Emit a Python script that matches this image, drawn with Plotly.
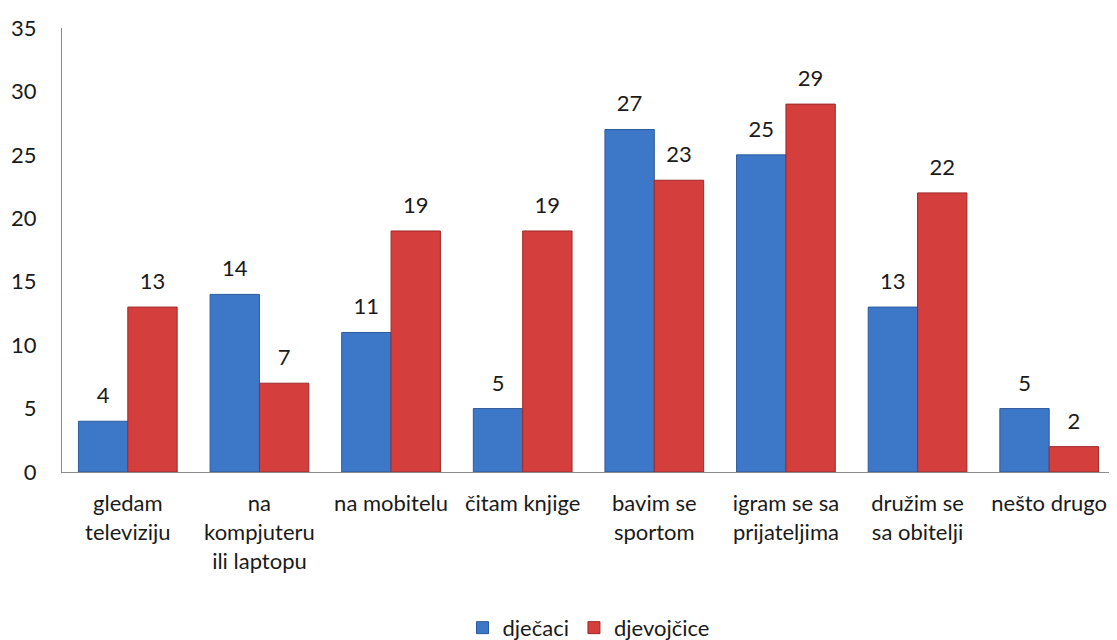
import plotly.graph_objects as go

categories = ["gledam<br>televiziju", "na<br>kompjuteru<br>ili laptopu", "na mobitelu",
              "čitam knjige", "bavim se<br>sportom", "igram se sa<br>prijateljima",
              "družim se<br>sa obitelji", "nešto drugo"]
djecaci = [4, 14, 11, 5, 27, 25, 13, 5]
djevojcice = [13, 7, 19, 19, 23, 29, 22, 2]
y_ticks = [0, 5, 10, 15, 20, 25, 30, 35]

font_family = "Lato, Open Sans, sans-serif"
# small empty second line lifts the value label a little above the bar
label_tpl = "<span style='font-size:22px'>%{y}</span><br> "

fig = go.Figure()
fig.add_trace(go.Bar(x=categories, y=djecaci, name="dječaci",
                     marker=dict(color="#3d78c8", line=dict(color="#2b5a9c", width=1)),
                     text=djecaci, texttemplate=label_tpl, textposition="outside",
                     cliponaxis=False, textfont=dict(size=10, color="#1a1a1a")))
fig.add_trace(go.Bar(x=categories, y=djevojcice, name="djevojčice",
                     marker=dict(color="#d43e3c", line=dict(color="#9e2a28", width=1)),
                     text=djevojcice, texttemplate=label_tpl, textposition="outside",
                     cliponaxis=False, textfont=dict(size=10, color="#1a1a1a")))

# page adds a small offset, margins are tuned for it
fig.update_layout(
    width=1117, height=640,
    margin=dict(l=54, r=10, t=20, b=176, autoexpand=False),
    paper_bgcolor="white", plot_bgcolor="white",
    font=dict(family=font_family, size=22, color="#1a1a1a"),
    barmode="group", bargap=0.25, bargroupgap=0,
    uniformtext=dict(mode=False),
    legend=dict(orientation="h", x=0.5, xanchor="center", y=-0.351, yanchor="middle",
                font=dict(size=22), traceorder="normal"),
    showlegend=True,
)
fig.update_yaxes(range=[0, 35], tickvals=y_ticks, showgrid=False, zeroline=False,
                 showline=True, linecolor="#8c8c8c", linewidth=1,
                 ticks="", ticklabelstandoff=20, automargin=False)
fig.update_xaxes(showgrid=False, showline=True, linecolor="#8c8c8c", linewidth=1,
                 ticks="", tickangle=0, ticklabelstandoff=12, automargin=False)

fig.write_html("out.html")
